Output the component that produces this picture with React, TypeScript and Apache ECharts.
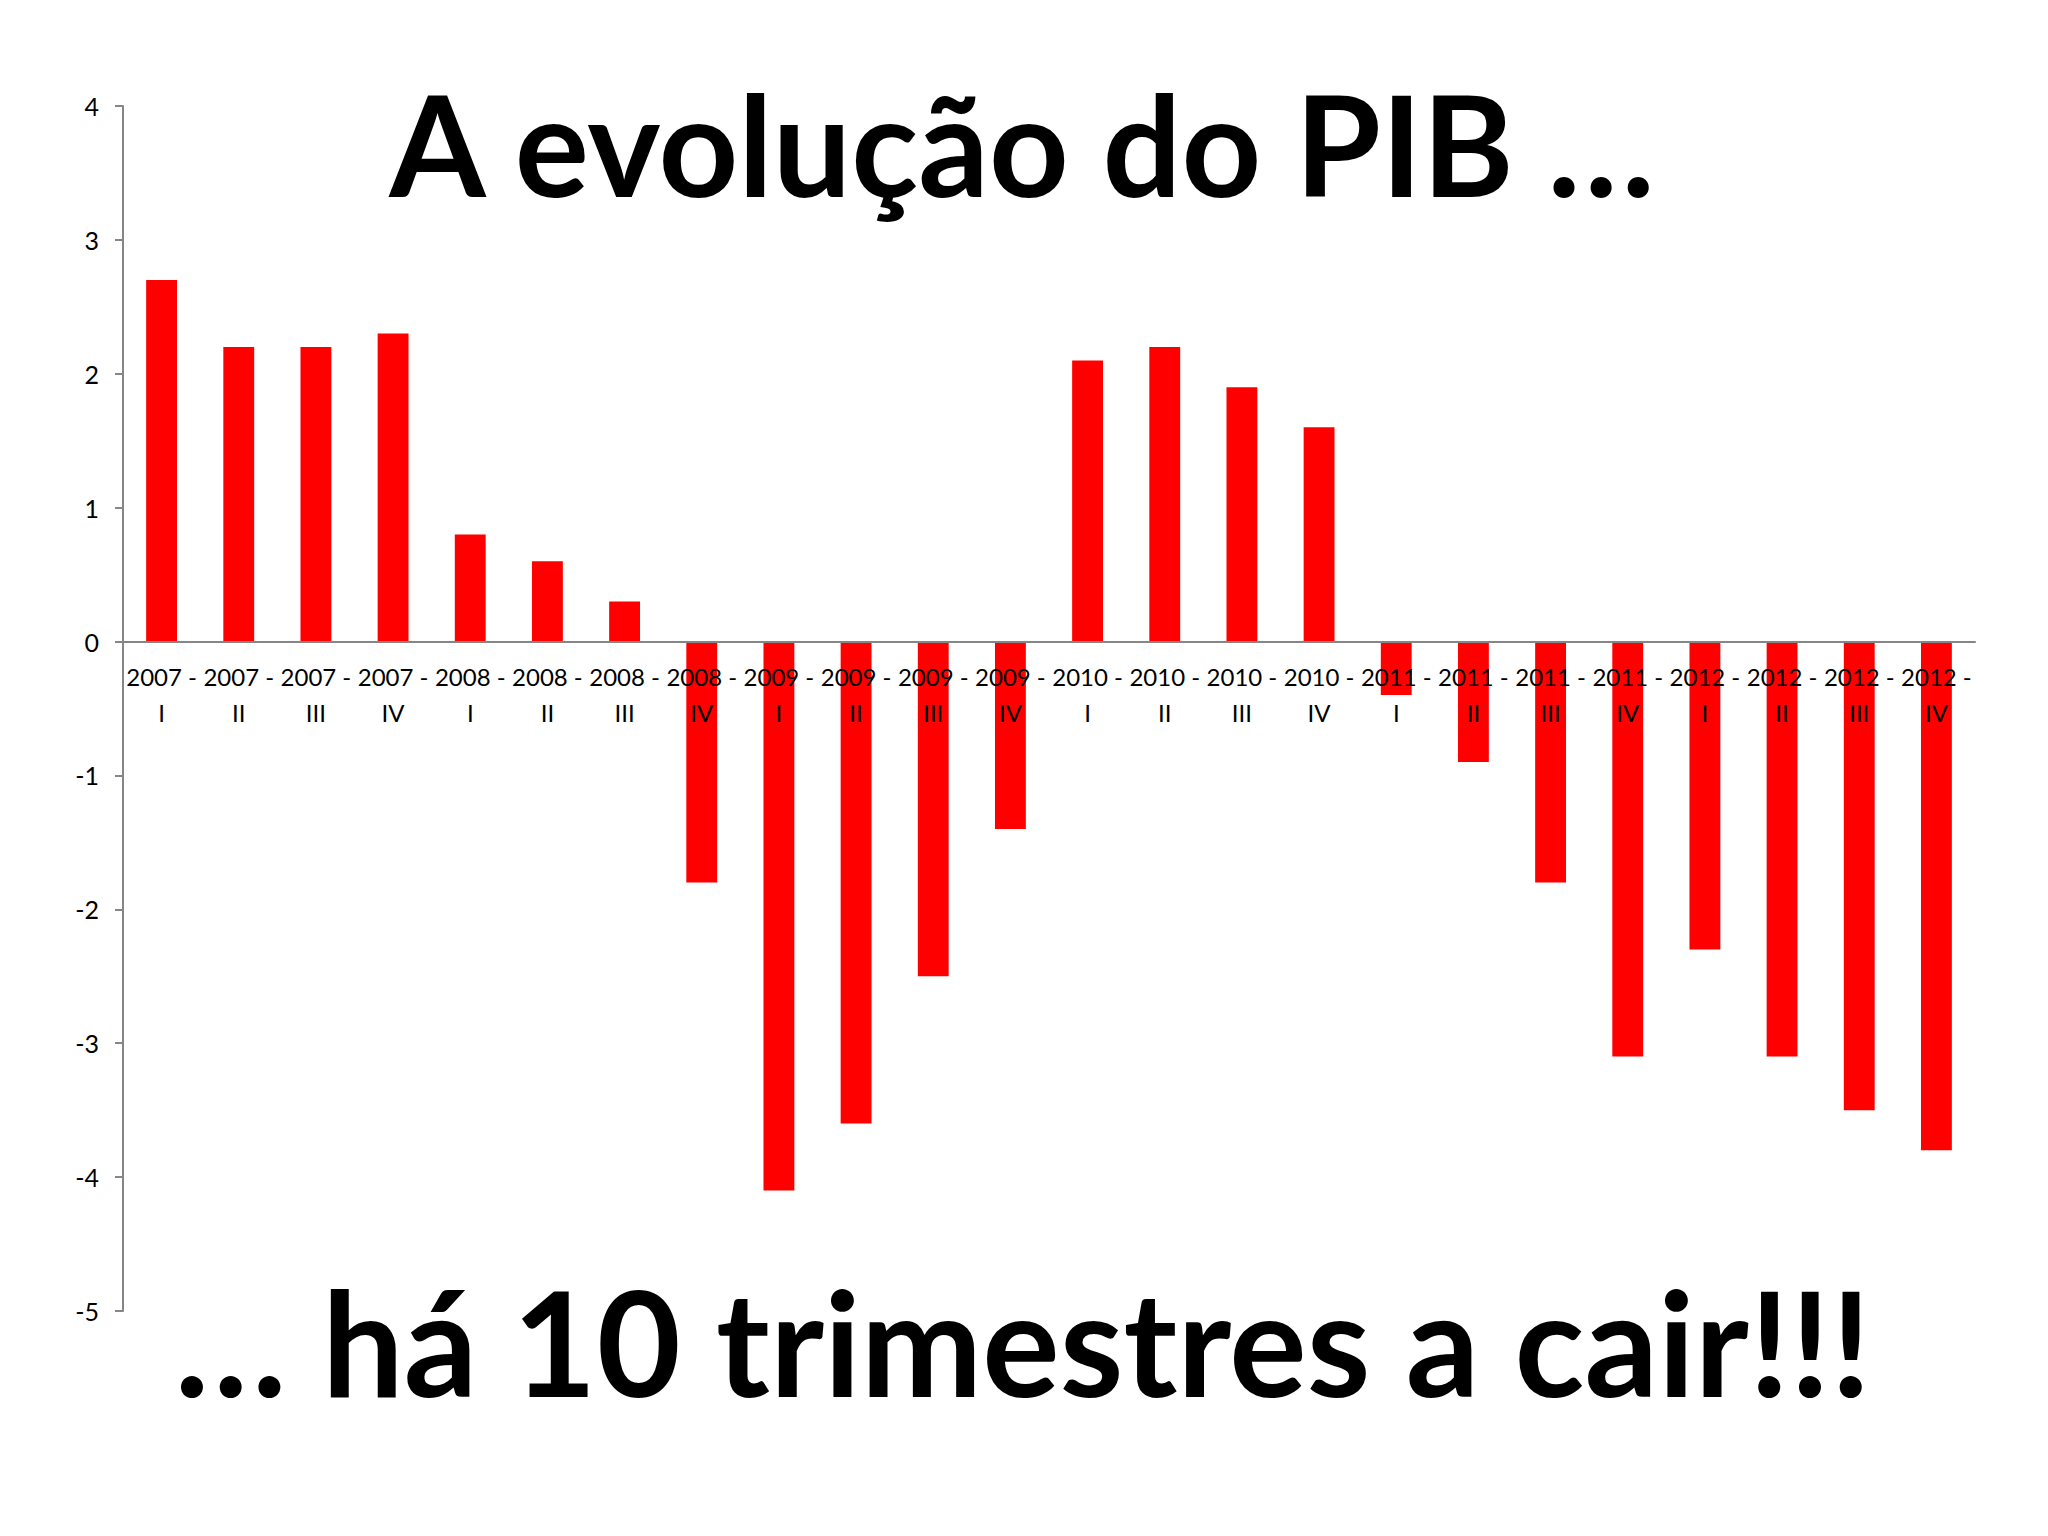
import { useEffect, useRef } from "react";
import * as echarts from "echarts";

const quarters = [
  "2007 - I", "2007 - II", "2007 - III", "2007 - IV",
  "2008 - I", "2008 - II", "2008 - III", "2008 - IV",
  "2009 - I", "2009 - II", "2009 - III", "2009 - IV",
  "2010 - I", "2010 - II", "2010 - III", "2010 - IV",
  "2011 - I", "2011 - II", "2011 - III", "2011 - IV",
  "2012 - I", "2012 - II", "2012 - III", "2012 - IV",
];
const pib = [
  2.7, 2.2, 2.2, 2.3,
  0.8, 0.6, 0.3, -1.8,
  -4.1, -3.6, -2.5, -1.4,
  2.1, 2.2, 1.9, 1.6,
  -0.4, -0.9, -1.8, -3.1,
  -2.3, -3.1, -3.5, -3.8,
];
const headline = "A evolução do PIB …";
const footline = "… há 10 trimestres a cair!!!";

const yMin = -5;
const yMax = 4;

const labelFont = "Lato, 'Open Sans', sans-serif";
const bigFont = "Lato, 'Open Sans', sans-serif";

export default function App() {
  const ref = useRef<HTMLDivElement>(null);

  useEffect(() => {
    if (!ref.current) return;
    const chart = echarts.init(ref.current, undefined, { renderer: "svg" });

    const top = 106;
    const bottom = 225;
    const plotH = 1536 - top - bottom;
    // lift the category axis up to the zero line
    const zeroOffset = -(plotH * (0 - yMin)) / (yMax - yMin);

    chart.setOption({
      animation: false,
      backgroundColor: "#ffffff",
      grid: { left: 123, right: 73, top, bottom },
      xAxis: {
        type: "category",
        data: quarters,
        offset: zeroOffset,
        z: 5,
        axisLine: { onZero: false, lineStyle: { color: "#868686", width: 2 } },
        axisTick: { length: 8, lineStyle: { color: "#868686", width: 2 } },
        axisLabel: {
          interval: 0,
          margin: 17,
          color: "#000",
          fontSize: 24,
          lineHeight: 36,
          fontFamily: labelFont,
          formatter: (v: string) => v.replace(" - ", " -\n"),
        },
      },
      yAxis: {
        type: "value",
        min: yMin,
        max: yMax,
        interval: 1,
        splitLine: { show: false },
        axisLine: { show: true, lineStyle: { color: "#868686", width: 2 } },
        axisTick: { show: true, length: 8, lineStyle: { color: "#868686", width: 2 } },
        axisLabel: { color: "#000", fontSize: 25, margin: 24, fontFamily: labelFont },
      },
      series: [
        {
          type: "bar",
          data: pib,
          barWidth: "40%",
          itemStyle: { color: "#ff0000" },
        },
      ],
      graphic: [
        {
          type: "text",
          x: 1022,
          y: 143,
          style: {
            text: headline,
            font: `bold 139px ${bigFont}`,
            fill: "#000",
            textAlign: "center",
            textVerticalAlign: "middle",
          },
        },
        {
          type: "text",
          x: 1023,
          y: 1341,
          style: {
            text: footline,
            font: `bold 145px ${bigFont}`,
            fill: "#000",
            textAlign: "center",
            textVerticalAlign: "middle",
          },
        },
      ],
    });

    return () => chart.dispose();
  }, []);

  return (
    <div
      ref={ref}
      style={{ position: "absolute", left: 0, top: 0, width: 2048, height: 1536 }}
    />
  );
}
